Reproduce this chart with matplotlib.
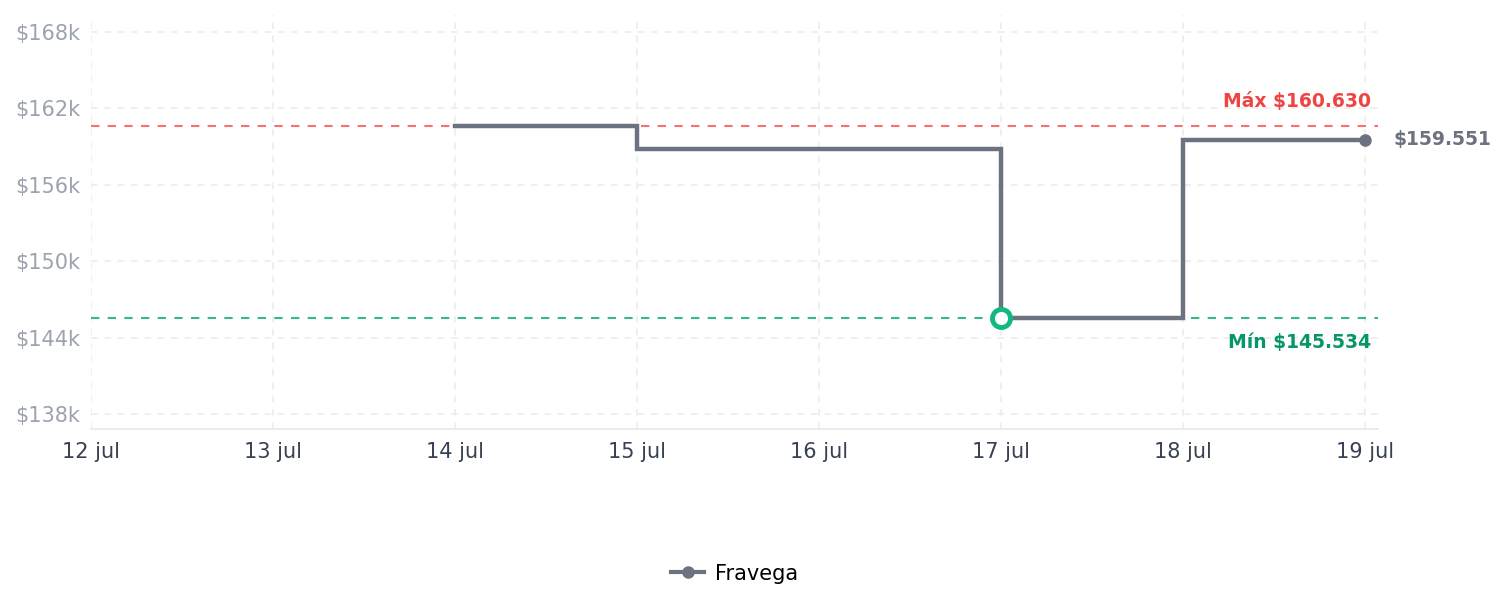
import datetime as dt
import matplotlib
matplotlib.use("Agg")
import matplotlib.pyplot as plt
import matplotlib.dates as mdates

# datos
fechas = [dt.date(2024, 7, d) for d in [14, 15, 16, 17, 18, 19]]
precios = [160630, 158830, 158830, 145534, 159551, 159551]
tienda = "Fravega"
precio_max = 160630
precio_min = 145534
fecha_min = dt.date(2024, 7, 17)

ticks_x = [dt.date(2024, 7, d) for d in range(12, 20)]
labels_x = ["12 jul", "13 jul", "14 jul", "15 jul", "16 jul", "17 jul", "18 jul", "19 jul"]
ticks_y = [138000, 144000, 150000, 156000, 162000, 168000]
labels_y = ["$138k", "$144k", "$150k", "$156k", "$162k", "$168k"]

gris = "#6b7280"
rojo = "#ef4444"
verde = "#10b981"

fig = plt.figure(figsize=(15.05, 6.07), dpi=100)
ax = fig.add_axes([0.0605, 0.2932, 0.8551, 0.6821])

ax.axhline(precio_max, color="#f87171", lw=1.5, ls=(0, (4, 4)), zorder=2)
ax.axhline(precio_min, color="#34b98a", lw=1.5, ls=(0, (4, 4)), zorder=2)

ax.step(fechas, precios, where="post", color=gris, lw=3.2, zorder=3,
        solid_joinstyle="miter")
ax.plot([fechas[-1]], [precios[-1]], "o", color=gris, ms=8, zorder=4)
ax.plot([fecha_min], [precio_min], "o", mfc="white", mec=verde, mew=3.5, ms=13, zorder=5)

# leyenda
ax.plot([], [], "-o", color=gris, lw=3, ms=8, label=tienda)

x0 = mdates.date2num(dt.date(2024, 7, 12))
x1 = mdates.date2num(dt.date(2024, 7, 19))
ax.set_xlim(x0, x1 + 0.07)
ax.set_ylim(136820, 169340)

ax.set_xticks(ticks_x)
ax.set_xticklabels(labels_x)
ax.set_yticks(ticks_y)
ax.set_yticklabels(labels_y)
ax.tick_params(axis="x", length=0, pad=9, labelsize=15, labelcolor="#374151")
ax.tick_params(axis="y", length=0, pad=8, labelsize=15, labelcolor="#9ca3af")

ax.grid(True, color="#ececec", lw=1.2, ls=(0, (4, 4)))
ax.set_axisbelow(True)
for s in ["top", "right", "left"]:
    ax.spines[s].set_visible(False)
ax.spines["bottom"].set_color("#e5e7eb")
ax.spines["bottom"].set_linewidth(1.2)

ax.annotate("Máx $160.630", xy=(x1 + 0.034, precio_max), xytext=(0, 17.5),
            textcoords="offset points", ha="right", va="center",
            color=rojo, fontsize=13.5, fontweight="bold")
ax.annotate("Mín $145.534", xy=(x1 + 0.034, precio_min), xytext=(0, -17.5),
            textcoords="offset points", ha="right", va="center",
            color="#059669", fontsize=13.5, fontweight="bold")
ax.annotate("$159.551", xy=(fechas[-1], precios[-1]), xytext=(20, 0),
            textcoords="offset points", ha="left", va="center",
            color=gris, fontsize=13.5, fontweight="bold", annotation_clip=False)

fig.legend(loc="center", bbox_to_anchor=(0.488, 0.055), frameon=False,
           fontsize=15, handlelength=1.6, handletextpad=0.5)

fig.savefig("out.png", dpi=100)
